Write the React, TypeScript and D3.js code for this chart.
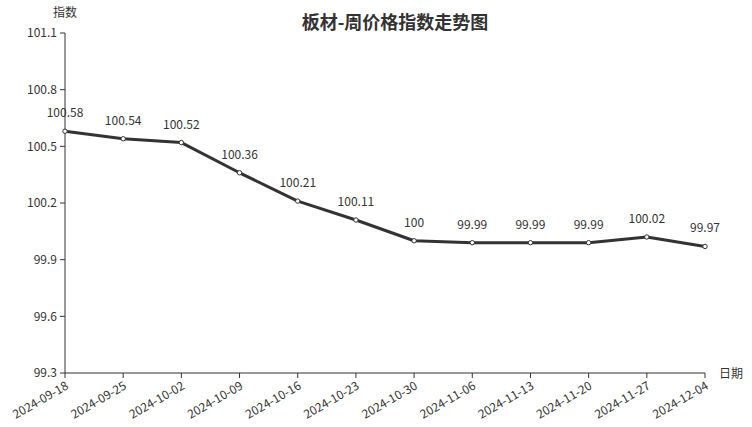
import React from "react";
import * as d3 from "d3";

const dates = [
  "2024-09-18", "2024-09-25", "2024-10-02", "2024-10-09", "2024-10-16", "2024-10-23",
  "2024-10-30", "2024-11-06", "2024-11-13", "2024-11-20", "2024-11-27", "2024-12-04",
];
const values = [100.58, 100.54, 100.52, 100.36, 100.21, 100.11, 100, 99.99, 99.99, 99.99, 100.02, 99.97];
const yTicks = [99.3, 99.6, 99.9, 100.2, 100.5, 100.8, 101.1];

const W = 752;
const H = 427;
const left = 65;
const right = 705;
const top = 33;
const bottom = 373;
const font = "'Noto Sans CJK SC', 'Noto Sans', sans-serif";
const ink = "#333";

export default function App() {
  const x = d3.scalePoint<string>().domain(dates).range([left, right]);
  const y = d3.scaleLinear().domain([99.3, 101.1]).range([bottom, top]);
  const line = d3
    .line<number>()
    .x((_, i) => x(dates[i]) as number)
    .y((d) => y(d));

  return (
    <svg
      width={W}
      height={H}
      style={{ position: "absolute", left: 0, top: 0, fontFamily: font }}
    >
      <rect width={W} height={H} fill="#fff" />
      <text x={395} y={29} textAnchor="middle" fontSize={18} fontWeight="bold" fill={ink}>
        板材-周价格指数走势图
      </text>
      <text x={65} y={17} textAnchor="middle" fontSize={12} fill={ink}>
        指数
      </text>
      <text x={719} y={378} textAnchor="start" fontSize={12} fill={ink}>
        日期
      </text>

      {/* y axis */}
      <line x1={left} x2={left} y1={top} y2={bottom} stroke={ink} strokeWidth={1} />
      {yTicks.map((t) => (
        <g key={t}>
          <line x1={left - 5} x2={left} y1={y(t)} y2={y(t)} stroke={ink} />
          <text x={left - 8} y={y(t)} dy="0.35em" textAnchor="end" fontSize={12} fill={ink}>
            {t}
          </text>
        </g>
      ))}

      {/* x axis */}
      <line x1={left} x2={right} y1={bottom} y2={bottom} stroke={ink} strokeWidth={1} />
      {dates.map((d) => {
        const px = x(d) as number;
        return (
          <g key={d}>
            <line x1={px} x2={px} y1={bottom} y2={bottom + 5} stroke={ink} />
            <text
              transform={`translate(${px},${bottom + 8}) rotate(-30)`}
              textAnchor="end"
              dy="0.7em"
              fontSize={12}
              fill={ink}
            >
              {d}
            </text>
          </g>
        );
      })}

      <path d={line(values) || ""} fill="none" stroke={ink} strokeWidth={3} strokeLinejoin="round" />
      {values.map((v, i) => (
        <g key={i}>
          <circle cx={x(dates[i])} cy={y(v)} r={2.2} fill="#fff" stroke={ink} strokeWidth={1} />
          <text
            x={x(dates[i])}
            y={y(v) - 14}
            textAnchor="middle"
            fontSize={12}
            fill={ink}
          >
            {v}
          </text>
        </g>
      ))}
    </svg>
  );
}
